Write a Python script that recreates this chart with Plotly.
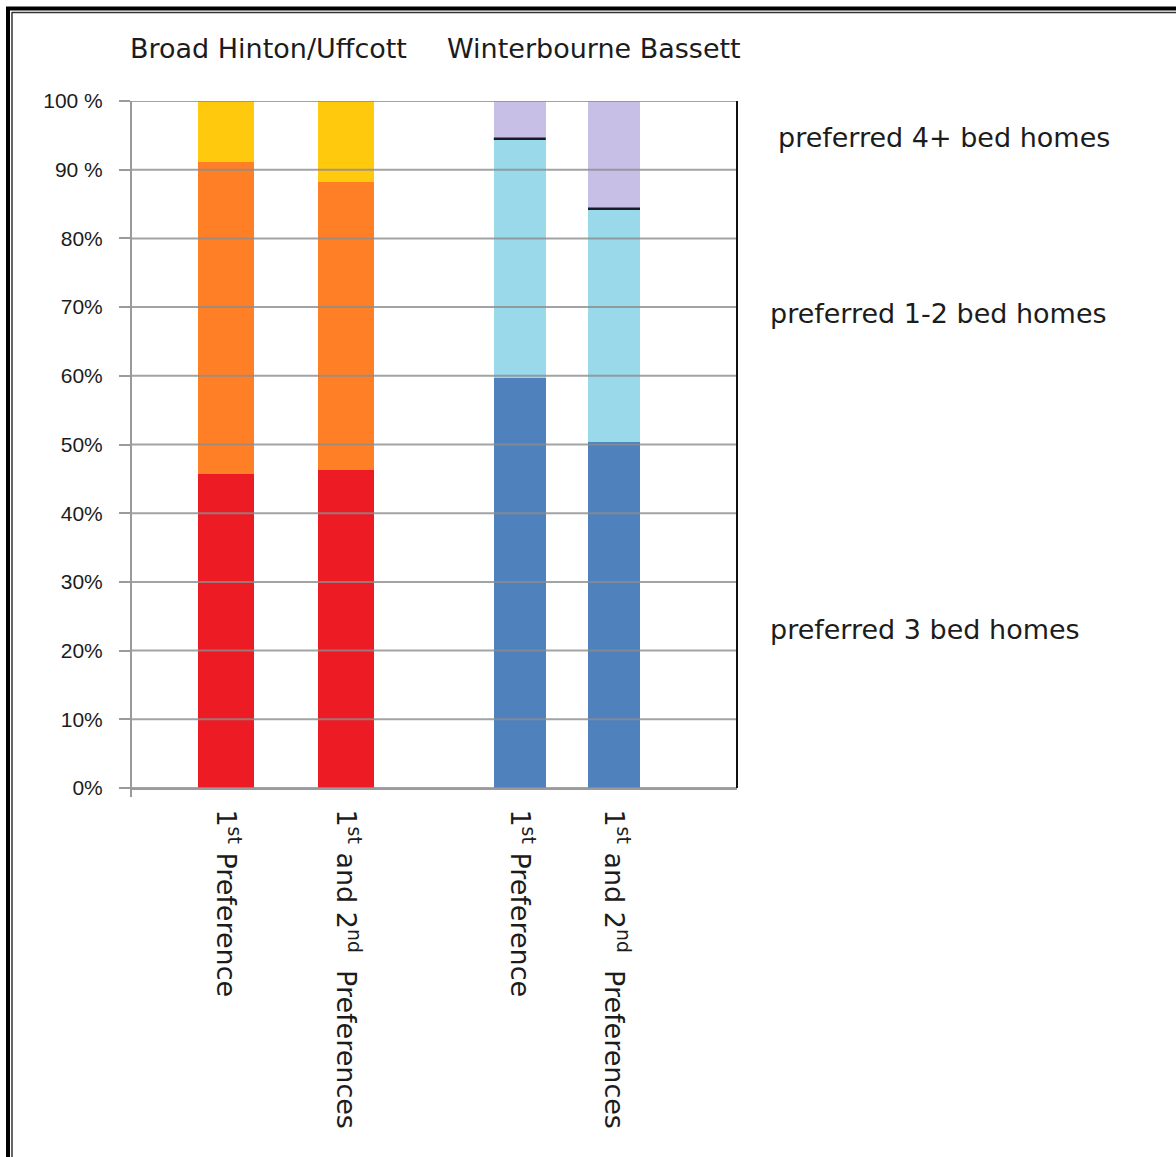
import plotly.graph_objects as go

# ---- data -------------------------------------------------------------
bar_labels = [
    "1<sup>st</sup> Preference",
    "1<sup>st</sup> and 2<sup>nd</sup>  Preferences",
    "1<sup>st</sup> Preference",
    "1<sup>st</sup> and 2<sup>nd</sup>  Preferences",
]
group_titles = ["Broad Hinton/Uffcott", "Winterbourne Bassett"]

# share of respondents (%) per preferred home size, one value per bar
three_bed = [45.7, 46.3, 59.7, 50.4]
one_two_bed = [45.4, 41.9, 34.8, 33.9]
four_plus_bed = [8.9, 11.8, 5.5, 15.7]

segment_names = ["preferred 3 bed homes", "preferred 1-2 bed homes", "preferred 4+ bed homes"]

y_tick_values = [0, 10, 20, 30, 40, 50, 60, 70, 80, 90, 100]
y_tick_labels = ["0%", "10%", "20%", "30%", "40%", "50%", "60%", "70%", "80%", "90 %", "100 %"]

# ---- layout constants -------------------------------------------------
W, H = 1176, 1157
PLOT_L, PLOT_R, PLOT_T, PLOT_B = 131, 737, 101, 788
X_UNIT = 120.0                      # pixels per x-axis unit
bar_centres = [0.79, 1.79, 3.24, 4.025]
bar_widths = [0.467, 0.467, 0.433, 0.433]

# colours: first group warm, second group cool
colours = {
    "preferred 3 bed homes": ["#ED1C24", "#ED1C24", "#4F81BD", "#4F81BD"],
    "preferred 1-2 bed homes": ["#FF7F27", "#FF7F27", "#99D9EA", "#99D9EA"],
    "preferred 4+ bed homes": ["#FFC90E", "#FFC90E", "#C8BFE7", "#C8BFE7"],
}
TEXT = "#1c1c1c"
GRID = "rgba(140,140,140,0.8)"


def fx(px):
    return (px - PLOT_L) / (PLOT_R - PLOT_L)


def fy(py):
    return (PLOT_B - py) / (PLOT_B - PLOT_T)


fig = go.Figure()
for name, vals in zip(segment_names, [three_bed, one_two_bed, four_plus_bed]):
    fig.add_trace(go.Bar(
        x=bar_centres, y=vals, width=bar_widths, name=name,
        marker=dict(color=colours[name], line=dict(width=0)),
        showlegend=False, hoverinfo="y",
    ))

shapes = []
# horizontal grid lines drawn over the bars
for v in y_tick_values:
    shapes.append(dict(type="line", xref="paper", yref="y", x0=0, x1=1, y0=v, y1=v,
                       line=dict(color=GRID, width=2), layer="above"))
# dark divider on top of the 1-2 bed segment of the second group
for i in (2, 3):
    top = three_bed[i] + one_two_bed[i]
    shapes.append(dict(type="line", xref="x", yref="y",
                       x0=bar_centres[i] - bar_widths[i] / 2, x1=bar_centres[i] + bar_widths[i] / 2,
                       y0=top, y1=top, line=dict(color="#1a1a2a", width=2.5), layer="above"))
# right edge of the plot area
shapes.append(dict(type="line", xref="paper", yref="paper", x0=1, x1=1, y0=0, y1=1,
                   line=dict(color="#111111", width=2), layer="above"))
# left axis line running a little below zero
shapes.append(dict(type="line", xref="paper", yref="paper", x0=0, x1=0, y0=fy(797), y1=1,
                   line=dict(color="#9a9a9a", width=2), layer="above"))
# double page frame
shapes += [
    dict(type="line", xref="paper", yref="paper", x0=fx(8), x1=fx(8), y0=fy(7), y1=fy(H + 5),
         line=dict(color="#000000", width=4)),
    dict(type="line", xref="paper", yref="paper", x0=fx(6), x1=fx(W + 5), y0=fy(8.5), y1=fy(8.5),
         line=dict(color="#000000", width=4)),
    dict(type="line", xref="paper", yref="paper", x0=fx(12), x1=fx(12), y0=fy(12), y1=fy(H + 5),
         line=dict(color="#333333", width=1.5)),
    dict(type="line", xref="paper", yref="paper", x0=fx(12), x1=fx(W + 5), y0=fy(12.5), y1=fy(12.5),
         line=dict(color="#333333", width=1.5)),
]

annotations = []
for title, cx in zip(group_titles, [268, 594]):
    annotations.append(dict(text=title, xref="paper", yref="paper", x=fx(cx), y=fy(48),
                            xanchor="center", yanchor="middle", showarrow=False,
                            font=dict(family="DejaVu Sans", size=27, color=TEXT)))
for name, lx, cy in zip(segment_names, [768, 768, 776], [629, 313, 137]):
    annotations.append(dict(text=name, xref="paper", yref="paper", x=fx(lx), y=fy(cy),
                            xanchor="left", yanchor="middle", showarrow=False,
                            font=dict(family="DejaVu Sans", size=27, color=TEXT)))

fig.update_layout(
    width=W, height=H,
    margin=dict(l=PLOT_L, r=W - PLOT_R, t=PLOT_T, b=H - PLOT_B, pad=0),
    paper_bgcolor="white", plot_bgcolor="white",
    barmode="stack", bargap=0,
    shapes=shapes, annotations=annotations,
    xaxis=dict(
        range=[0, (PLOT_R - PLOT_L) / X_UNIT],
        tickvals=bar_centres, ticktext=bar_labels, tickangle=90,
        tickfont=dict(family="DejaVu Sans", size=27, color=TEXT),
        showgrid=False, zeroline=False, showline=True, linecolor="#9a9a9a", linewidth=2,
        ticks="", ticklabelstandoff=14, fixedrange=True,
    ),
    yaxis=dict(
        range=[0, 100], tickvals=y_tick_values, ticktext=y_tick_labels,
        tickfont=dict(family="Liberation Sans, Arial", size=21, color=TEXT),
        showgrid=False, zeroline=False, showline=False,
        ticks="outside", ticklen=11, tickwidth=2, tickcolor="#9a9a9a",
        ticklabelstandoff=12, fixedrange=True,
    ),
)

fig.write_html("out.html")
